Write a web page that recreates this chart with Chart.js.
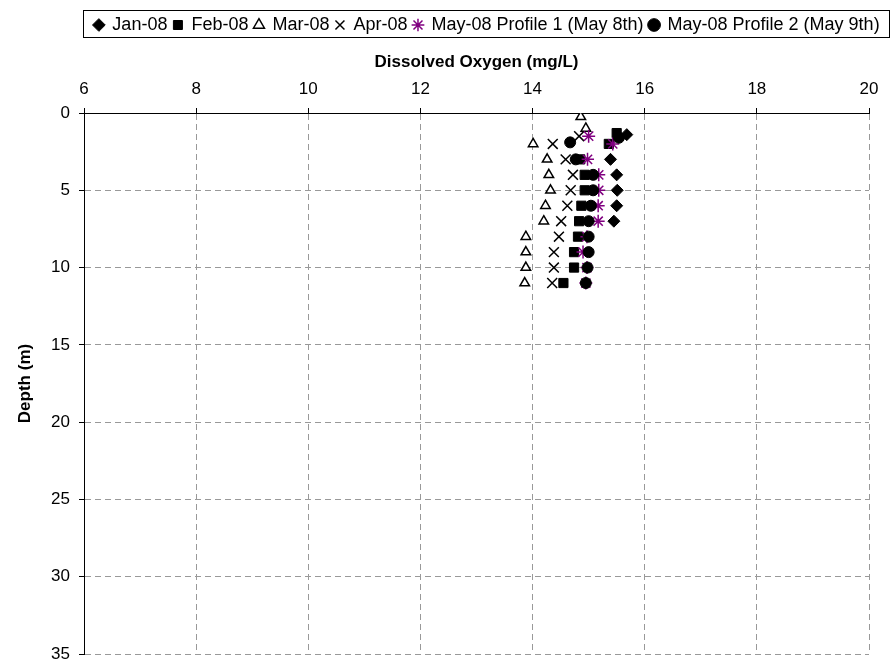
<!DOCTYPE html>
<html>
<head>
<meta charset="utf-8">
<script src="https://cdn.jsdelivr.net/npm/chart.js@4.4.0/dist/chart.umd.min.js"></script>
<style>
html, body { margin: 0; padding: 0; background: #fff; }
</style>
</head>
<body>
<canvas id="my_canvas" width="893" height="663"></canvas>
<script>
// axis ticks
var xTicks = [6, 8, 10, 12, 14, 16, 18, 20];
var depthTicks = [0, 5, 10, 15, 20, 25, 30, 35];

// series: depth (m) and dissolved oxygen (mg/L)
var janDepth = [1.4, 3, 4, 5, 6, 7];
var janDO    = [15.68, 15.39, 15.5, 15.51, 15.5, 15.45];

var febDepth = [1.3, 2, 3, 4, 5, 6, 7, 8, 9, 10, 11];
var febDO    = [15.5, 15.36, 14.85, 14.93, 14.93, 14.87, 14.83, 14.81, 14.74, 14.74, 14.55];

var marDepth = [0.25, 1, 2, 3, 4, 5, 6, 7, 8, 9, 10, 11];
var marDO    = [14.86, 14.95, 14.01, 14.26, 14.29, 14.32, 14.23, 14.2, 13.88, 13.88, 13.88, 13.86];

var aprDepth = [1.5, 2, 3, 4, 5, 6, 7, 8, 9, 10, 11];
var aprDO    = [14.83, 14.36, 14.59, 14.72, 14.68, 14.62, 14.51, 14.47, 14.38, 14.38, 14.35];

var may1Depth = [1.5, 2, 3, 4, 5, 6, 7, 8, 9, 10, 11];
var may1DO    = [15.0, 15.43, 14.98, 15.18, 15.18, 15.17, 15.17, 14.97, 14.9, 14.97, 14.95];

var may2Depth = [1.6, 1.9, 3, 4, 5, 6, 7, 8, 9, 10, 11];
var may2DO    = [15.54, 14.67, 14.77, 15.08, 15.08, 15.04, 15.0, 15.0, 15.0, 14.98, 14.95];

var seriesNames = ['Jan-08', 'Feb-08', 'Mar-08', 'Apr-08',
                   'May-08 Profile 1 (May 8th)', 'May-08 Profile 2 (May 9th)'];

function pts(depths, vals) {
    var out = [];
    for (var i in depths) {
        out.push({x: vals[i], y: depths[i]});
    }
    return out;
}

var FONT = "'Liberation Sans', Arial, sans-serif";
var PURPLE = '#800080';

var chartdata = {
    datasets: [
        { label: seriesNames[0], data: pts(janDepth, janDO), pointStyle: 'rectRot',
          pointRadius: 6, backgroundColor: '#000', borderColor: '#000', borderWidth: 1, order: 5 },
        { label: seriesNames[1], data: pts(febDepth, febDO), pointStyle: 'rect',
          pointRadius: 6.5, backgroundColor: '#000', borderColor: '#000', borderWidth: 1, order: 4 },
        { label: seriesNames[2], data: pts(marDepth, marDO), pointStyle: 'triangle',
          pointRadius: 5.5, backgroundColor: '#fff', borderColor: '#000', borderWidth: 1.5, order: 3 },
        { label: seriesNames[3], data: pts(aprDepth, aprDO), pointStyle: 'crossRot',
          pointRadius: 7, backgroundColor: '#000', borderColor: '#000', borderWidth: 1.5, order: 2 },
        { label: seriesNames[4], data: pts(may1Depth, may1DO), pointStyle: 'star',
          pointRadius: 6.5, backgroundColor: PURPLE, borderColor: PURPLE, borderWidth: 1.5, order: 1 },
        { label: seriesNames[5], data: pts(may2Depth, may2DO), pointStyle: 'circle',
          pointRadius: 5.5, backgroundColor: '#000', borderColor: '#000', borderWidth: 1, order: 0 }
    ]
};

// legend sits in a framed box across the top
var legendFrame = {
    id: 'legendFrame',
    afterLayout: function(chart) {
        var l = chart.legend;
        l.left = 84;
        l.right = 890;
        l.width = 806;
    },
    afterDraw: function(chart) {
        var ctx = chart.ctx;
        ctx.save();
        ctx.strokeStyle = '#000';
        ctx.lineWidth = 1;
        ctx.strokeRect(83.5, 10.5, 806, 27);
        ctx.restore();
    }
};

var ctx = document.getElementById('my_canvas');

var chart = new Chart(ctx, {
    type: 'scatter',
    data: chartdata,
    plugins: [legendFrame],
    options: {
        responsive: false,
        devicePixelRatio: 1,
        animation: false,
        layout: { padding: { left: 0, right: 24, top: 10, bottom: 9 } },
        plugins: {
            tooltip: { enabled: false },
            legend: {
                position: 'top',
                labels: {
                    usePointStyle: true,
                    boxWidth: 9,
                    boxHeight: 9,
                    padding: 6,
                    color: '#000',
                    font: { family: FONT, size: 18 },
                    sort: function(a, b) { return a.datasetIndex - b.datasetIndex; }
                }
            }
        },
        scales: {
            x: {
                type: 'linear',
                position: 'top',
                min: 6,
                max: 20,
                afterBuildTicks: function(s) {
                    s.ticks = xTicks.map(function(v) { return {value: v}; });
                },
                afterFit: function(s) {
                    s.height = 113 - 10 - s.chart.legend.height;
                },
                ticks: { color: '#000', padding: 8, font: { family: FONT, size: 17 } },
                title: {
                    display: true,
                    text: 'Dissolved Oxygen (mg/L)',
                    color: '#000',
                    font: { family: FONT, size: 17, weight: 'bold' },
                    padding: { top: 8, bottom: 0 }
                },
                grid: { color: '#999', tickColor: '#000', tickLength: 5, tickBorderDash: [] },
                border: { display: true, color: '#000', width: 1, dash: [6, 4] }
            },
            y: {
                type: 'linear',
                reverse: true,
                min: 0,
                max: 35,
                afterBuildTicks: function(s) {
                    s.ticks = depthTicks.map(function(v) { return {value: v}; });
                },
                afterFit: function(s) {
                    s.width = 84;
                    s.paddingTop = 0;
                    s.paddingBottom = 0;
                },
                ticks: { color: '#000', padding: 9, font: { family: FONT, size: 17 } },
                title: {
                    display: true,
                    text: 'Depth (m)',
                    color: '#000',
                    font: { family: FONT, size: 17, weight: 'bold' },
                    padding: { top: 15, bottom: 4 }
                },
                grid: { color: '#999', tickColor: '#000', tickLength: 5, tickBorderDash: [] },
                border: { display: true, color: '#000', width: 1, dash: [6, 4] }
            }
        }
    }
});
</script>
</body>
</html>
